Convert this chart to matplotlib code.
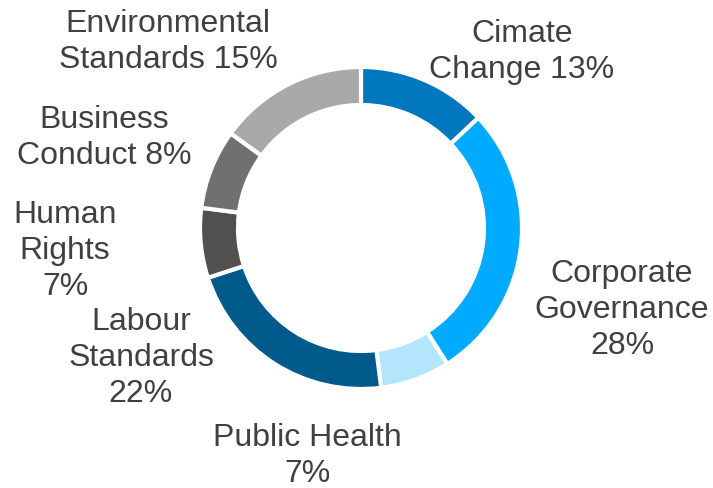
import matplotlib.pyplot as plt

# share of engagement topics, clockwise from 12 o'clock
topics = ["Cimate\nChange 13%", "Corporate\nGovernance\n28%", "Public Health\n7%",
          "Labour\nStandards\n22%", "Human\nRights\n7%", "Business\nConduct 8%",
          "Environmental\nStandards 15%"]
shares = [13, 28, 7, 22, 7, 8, 15]
colours = ["#0077BE", "#00AAFF", "#B3E5FC", "#005A8C", "#505050", "#707070", "#A9A9A9"]

# label centres in pixel coords (origin bottom left)
label_xy = [(522, 436), (622, 178), (307, 32), (141, 130), (65, 237), (104, 350), (168, 446)]

plt.rcParams['font.family'] = ['Liberation Sans', 'DejaVu Sans']

fig = plt.figure(figsize=(7.13, 4.88), dpi=100)
ax = fig.add_axes([0, 0, 1, 1])

ax.pie(shares, colors=colours, startangle=90, counterclock=False,
       center=(361, 260), radius=161,
       wedgeprops=dict(width=38, edgecolor='white', linewidth=3))

for txt, (x, y) in zip(topics, label_xy):
    ax.text(x, y, txt, ha='center', va='center', fontsize=23,
            color='#404040', linespacing=1.27)

ax.set_xlim(0, 713)
ax.set_ylim(0, 488)
ax.set_aspect('equal')
ax.axis('off')

fig.savefig("out.png", dpi=100)
